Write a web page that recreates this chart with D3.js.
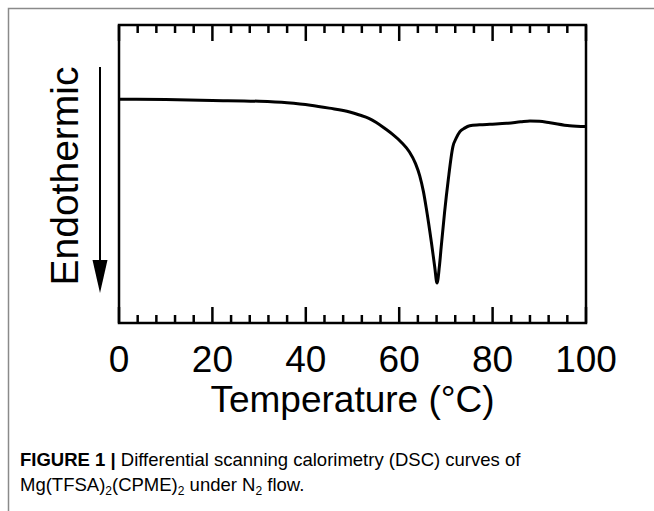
<!DOCTYPE html>
<html lang="en">
<head>
  <meta charset="UTF-8">
  <title>DSC curve</title>
</head>
<style>
    body {
      margin: 0;
      background: #fff;
    }

    text {
      font-family: Arial, "Liberation Sans", Helvetica, sans-serif;
      fill: #000;
    }

    .frame {
      fill: none;
      stroke: #000;
      stroke-width: 2.5px;
    }

    .curve {
      fill: none;
      stroke: #000;
      stroke-width: 3px;
      stroke-linejoin: round;
    }

    .caption {
      font-family: "Liberation Sans Narrow", "Arial Narrow", Arial, sans-serif;
      font-size: 18.5px;
    }
</style>
<body>

<div id="chart"></div>

<script src="https://cdnjs.cloudflare.com/ajax/libs/d3/7.8.5/d3.min.js"></script>

<script>
/* global d3 */

// temperature (°C) and heat flow (arbitrary units)
var temperature = [0, 10, 20, 30, 36, 41, 45, 49.4, 51.5, 53.5, 55.1, 57, 58.6, 60.5,
  62.2, 63.5, 64.4, 65.2, 65.8, 66.9, 67.6, 68.1, 68.6, 69.0, 69.7, 70.5, 71.5,
  72.2, 73, 74, 75.1, 77.2, 79.4, 83, 86, 88, 90, 92.3, 96.5, 100];
var heatFlow = [7.51, 7.50, 7.47, 7.44, 7.39, 7.31, 7.21, 7.08, 6.98, 6.87, 6.73, 6.52, 6.33, 6.06,
  5.74, 5.35, 4.94, 4.40, 3.85, 2.70, 1.89, 1.34, 1.89, 2.56, 3.69, 4.80, 5.92,
  6.20, 6.42, 6.54, 6.62, 6.65, 6.67, 6.70, 6.75, 6.78, 6.77, 6.72, 6.62, 6.59];

var majorTicks = [0, 20, 40, 60, 80, 100];
var minorTicks = d3.range(0, 101, 4).filter(function(t) { return t % 20 !== 0; });

var width = 654;
var height = 511;
var margin = {top: 25, right: 68, bottom: 188, left: 119};

var svg = d3.select("#chart")
    .append("svg")
    .attr("width", width)
    .attr("height", height);

// journal card border
svg.append("path")
    .attr("d", "M8.5,511V8.5H654")
    .attr("fill", "none")
    .attr("stroke", "#8a8a8a")
    .attr("stroke-width", 1.5);

var x = d3.scaleLinear()
    .domain([0, 100])
    .range([margin.left, width - margin.right]);

var y = d3.scaleLinear()
    .domain([0, 10])
    .range([height - margin.bottom, margin.top]);

var y0 = y.range()[0];
var y1 = y.range()[1];

// inward ticks on top and bottom
var ticksG = svg.append("g")
    .attr("stroke", "#000")
    .attr("stroke-width", 2.5);

function addTicks(vals, len) {
  ticksG.selectAll(null)
    .data(vals)
    .enter()
    .append("line")
    .attr("x1", d => x(d)).attr("x2", d => x(d))
    .attr("y1", y1).attr("y2", y1 + len);
  ticksG.selectAll(null)
    .data(vals)
    .enter()
    .append("line")
    .attr("x1", d => x(d)).attr("x2", d => x(d))
    .attr("y1", y0).attr("y2", y0 - len);
}
addTicks(majorTicks, 16);
addTicks(minorTicks, 8);

svg.append("rect")
    .attr("class", "frame")
    .attr("x", x(0))
    .attr("y", y1)
    .attr("width", x(100) - x(0))
    .attr("height", y0 - y1);

var data = temperature.map(function(t, i) { return {t: t, v: heatFlow[i]}; });

var line = d3.line()
    .x(d => x(d.t))
    .y(d => y(d.v))
    .curve(d3.curveMonotoneX);

svg.append("path")
    .datum(data)
    .attr("class", "curve")
    .attr("d", line);

// tick labels
svg.selectAll(".tick-label")
    .data(majorTicks)
    .enter()
    .append("text")
    .attr("class", "tick-label")
    .attr("x", d => x(d))
    .attr("y", 372)
    .attr("text-anchor", "middle")
    .style("font-size", "37px")
    .text(d => d);

svg.append("text")
    .attr("x", (x(0) + x(100)) / 2)
    .attr("y", 412)
    .attr("text-anchor", "middle")
    .style("font-size", "37px")
    .text("Temperature (°C)");

// y label and arrow
svg.append("text")
    .attr("transform", "translate(78," + 176 + ") rotate(-90)")
    .attr("text-anchor", "middle")
    .style("font-size", "39px")
    .text("Endothermic");

svg.append("line")
    .attr("x1", 100).attr("x2", 100)
    .attr("y1", 67).attr("y2", 262)
    .attr("stroke", "#000")
    .attr("stroke-width", 2);

svg.append("path")
    .attr("d", "M92.5,260L107.5,260L100,293Z")
    .attr("fill", "#000");

// caption
var cap = svg.append("text")
    .attr("class", "caption")
    .attr("x", 20)
    .attr("y", 466);
cap.append("tspan").style("font-weight", "bold").text("FIGURE 1 | ");
cap.append("tspan").text("Differential scanning calorimetry (DSC) curves of");

var cap2 = svg.append("text")
    .attr("class", "caption")
    .attr("x", 20)
    .attr("y", 491);
cap2.append("tspan").text("Mg(TFSA)");
cap2.append("tspan").attr("dy", 4).style("font-size", "12px").text("2");
cap2.append("tspan").attr("dy", -4).text("(CPME)");
cap2.append("tspan").attr("dy", 4).style("font-size", "12px").text("2");
cap2.append("tspan").attr("dy", -4).text(" under N");
cap2.append("tspan").attr("dy", 4).style("font-size", "12px").text("2");
cap2.append("tspan").attr("dy", -4).text(" flow.");

</script>

</body>
</html>
